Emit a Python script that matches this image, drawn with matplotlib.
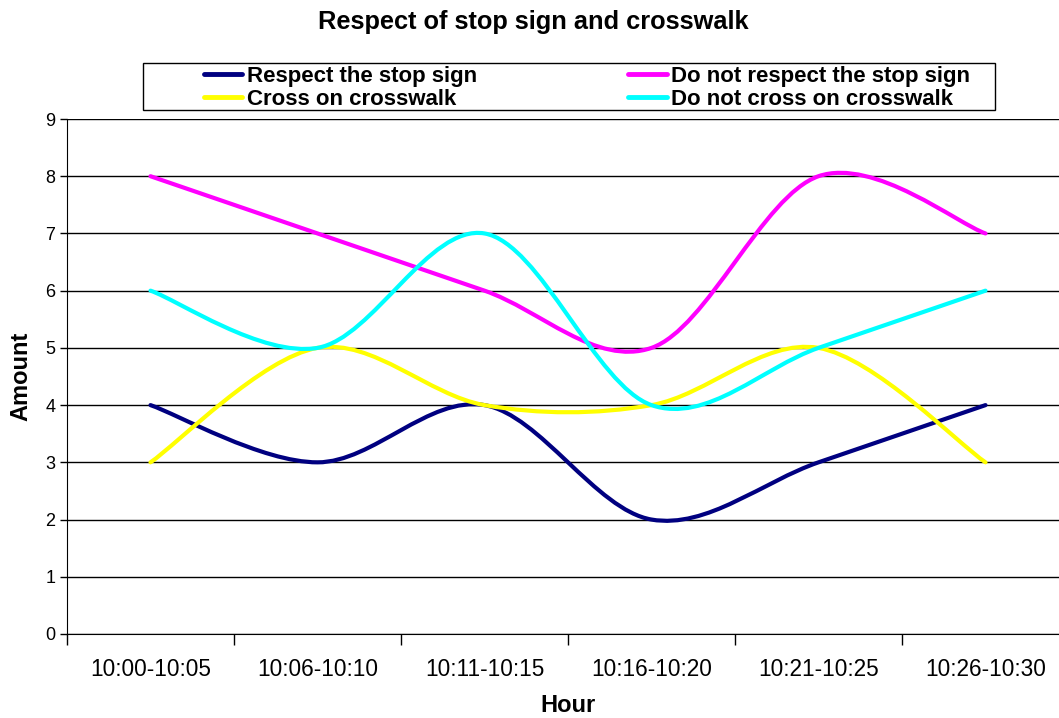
import matplotlib.pyplot as plt
from matplotlib.path import Path
from matplotlib.patches import PathPatch, Rectangle
from matplotlib.lines import Line2D

plt.rcParams['font.family'] = ['Liberation Sans', 'DejaVu Sans']

# Datos
hours = ['10:00-10:05', '10:06-10:10', '10:11-10:15', '10:16-10:20', '10:21-10:25', '10:26-10:30']
respect_stop = [4, 3, 4, 2, 3, 4]
no_respect_stop = [8, 7, 6, 5, 8, 7]
cross_crosswalk = [3, 5, 4, 4, 5, 3]
no_cross_crosswalk = [6, 5, 7, 4, 5, 6]

series = [
    ('Respect the stop sign', respect_stop, '#000080'),
    ('Do not respect the stop sign', no_respect_stop, '#FF00FF'),
    ('Cross on crosswalk', cross_crosswalk, '#FFFF00'),
    ('Do not cross on crosswalk', no_cross_crosswalk, '#00FFFF'),
]


def smooth_path(xs, ys):
    # curva suavizada tipo Excel (Catmull-Rom en forma Bezier)
    pts = list(zip(xs, ys))
    n = len(pts)
    verts = [pts[0]]
    codes = [Path.MOVETO]
    for i in range(n - 1):
        p0 = pts[i - 1] if i > 0 else pts[i]
        p1 = pts[i]
        p2 = pts[i + 1]
        p3 = pts[i + 2] if i + 2 < n else pts[i + 1]
        c1 = (p1[0] + (p2[0] - p0[0]) / 6, p1[1] + (p2[1] - p0[1]) / 6)
        c2 = (p2[0] - (p3[0] - p1[0]) / 6, p2[1] - (p3[1] - p1[1]) / 6)
        verts += [c1, c2, p2]
        codes += [Path.CURVE4] * 3
    return Path(verts, codes)


fig = plt.figure(figsize=(10.59, 7.18), dpi=100)
ax = fig.add_axes([67 / 1059, 1 - 634 / 718, 1002 / 1059, 515 / 718])

x = list(range(len(hours)))
handles = {}
for name, vals, color in series:
    ax.add_patch(PathPatch(smooth_path(x, vals), facecolor='none', edgecolor=color,
                           lw=3, capstyle='round', joinstyle='round', zorder=3))
    handles[name] = Line2D([], [], color=color, lw=3.5, solid_capstyle='round')

ax.set_xlim(-0.5, 5.5)
ax.set_ylim(0, 9)
ax.set_yticks(range(10))
ax.tick_params(axis='y', labelsize=13, length=5, direction='out', width=1)
ax.yaxis.grid(True, color='black', lw=1)
ax.set_axisbelow(True)

# ticks en los limites de categoria, etiquetas en el centro
ax.set_xticks([i - 0.5 for i in range(len(hours) + 1)])
ax.set_xticklabels([])
ax.set_xticks(x, minor=True)
ax.set_xticklabels(hours, minor=True, fontsize=16.3)
ax.tick_params(axis='x', which='major', length=8, direction='out', width=1)
ax.tick_params(axis='x', which='minor', length=0, pad=17)

for s in ['top', 'right']:
    ax.spines[s].set_visible(False)

ax.set_xlabel('Hour', fontsize=17, fontweight='bold', labelpad=10)
ax.set_ylabel('Amount', fontsize=17, fontweight='bold', labelpad=9)
fig.suptitle('Respect of stop sign and crosswalk', fontsize=18.3, fontweight='bold',
             x=533 / 1059, y=1 - 22 / 718, va='center')

# cuadro de la leyenda
fig.patches.append(Rectangle((143 / 1059, 1 - 110 / 718), 852 / 1059, 47 / 718,
                             transform=fig.transFigure, facecolor='white',
                             edgecolor='black', lw=1))

order = ['Respect the stop sign', 'Cross on crosswalk',
         'Do not respect the stop sign', 'Do not cross on crosswalk']
leg = fig.legend([handles[k] for k in order], order, ncol=2,
                 loc='center', bbox_to_anchor=(587 / 1059, 1 - 88 / 718),
                 frameon=False, borderaxespad=0,
                 prop={'weight': 'bold', 'size': 16}, handlelength=1.75, handletextpad=0.2,
                 labelspacing=0.1, borderpad=0.0, columnspacing=6.8)

fig.savefig('out.png', dpi=100)
